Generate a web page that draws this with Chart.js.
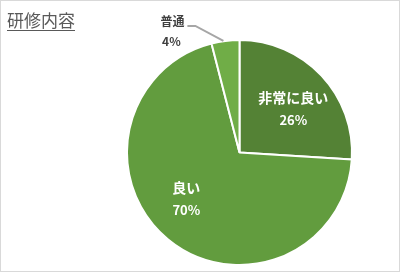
<!DOCTYPE html>
<html>
<head>
<meta charset="utf-8">
<script src="https://cdn.jsdelivr.net/npm/chart.js@4"></script>
<style>
  html, body { margin: 0; padding: 0; background: #fff; }
  #wrap { position: relative; width: 398px; height: 270px; border: 1px solid #d9d9d9; }
  #title {
    position: absolute; left: 6px; top: 6px;
    font-family: "Noto Sans CJK JP", sans-serif; font-size: 17px;
    color: #595959; text-decoration: underline; text-underline-offset: 3px;
  }
  canvas { position: absolute; left: 0; top: 0; }
</style>
</head>
<body>
<div id="wrap">
  <canvas id="pieChart" width="398" height="270"></canvas>
  <div id="title">研修内容</div>
</div>
<script>
// chart data
const pieLabels = ['非常に良い', '良い', '普通'];
const pieValues = [26, 70, 4];
const pieColors = ['#548235', '#629c3e', '#70ad47'];

// labels drawn near the arc mid-angle; the small slice gets an outside label with a leader line
const pieLabelPlugin = {
    id: 'pieLabels',
    afterDatasetsDraw(chart) {
        const ctx = chart.ctx;
        const meta = chart.getDatasetMeta(0);
        ctx.save();
        ctx.textAlign = 'center';
        ctx.textBaseline = 'middle';
        meta.data.forEach((arc, i) => {
            const p = arc.getProps(['x', 'y', 'startAngle', 'endAngle', 'outerRadius']);
            const mid = (p.startAngle + p.endAngle) / 2;
            const pct = pieValues[i] + '%';
            if (pieValues[i] < 10) {
                const ox = p.x + Math.cos(mid) * p.outerRadius;
                const oy = p.y + Math.sin(mid) * p.outerRadius;
                const ex = ox - 30, ey = oy - 15;
                ctx.strokeStyle = '#a6a6a6';
                ctx.lineWidth = 2;
                ctx.beginPath();
                ctx.moveTo(ox - 2, oy);
                ctx.lineTo(ex, ey);
                ctx.lineTo(ex - 8, ey);
                ctx.stroke();
                ctx.fillStyle = '#404040';
                ctx.font = 'bold 12px "Noto Sans CJK JP", sans-serif';
                ctx.fillText(pieLabels[i], ex - 23, ey - 4);
                ctx.fillText(pct, ex - 24, ey + 16);
            } else {
                // best-fit style: nudge a little clockwise from the middle
                const a = mid + 0.04 * (p.endAngle - p.startAngle);
                const r = p.outerRadius * 0.62;
                const cx = p.x + Math.cos(a) * r;
                const cy = p.y + Math.sin(a) * r;
                ctx.fillStyle = '#ffffff';
                ctx.font = 'bold 14px "Noto Sans CJK JP", sans-serif';
                ctx.fillText(pieLabels[i], cx, cy - 10);
                ctx.font = 'bold 13px "Noto Sans CJK JP", sans-serif';
                ctx.fillText(pct, cx, cy + 12);
            }
        });
        ctx.restore();
    }
};

new Chart(document.getElementById('pieChart').getContext('2d'), {
    type: 'pie',
    data: {
        labels: pieLabels,
        datasets: [{
            data: pieValues,
            backgroundColor: pieColors,
            borderColor: '#ffffff',
            borderWidth: 2
        }]
    },
    options: {
        responsive: false,
        animation: false,
        layout: { padding: { left: 125, right: 46, top: 37, bottom: 4 } },
        plugins: {
            legend: { display: false },
            tooltip: { enabled: false }
        }
    },
    plugins: [pieLabelPlugin]
});
</script>
</body>
</html>
